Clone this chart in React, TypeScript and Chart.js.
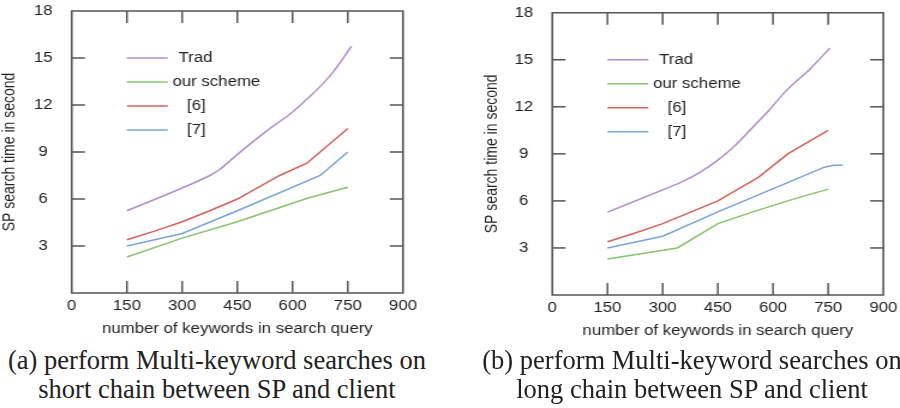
import React, { useEffect, useRef } from "react";
import { Chart, registerables } from "chart.js";

Chart.register(...registerables);

// ---------- data ----------
const xTickValues = [0, 150, 300, 450, 600, 750, 900];
const yTickValues = [0, 3, 6, 9, 12, 15, 18];
const seriesNames = ["Trad", "our scheme", "[6]", "[7]"];
const seriesColors = ["#b08fcf", "#86c46e", "#d3625a", "#7aa3de"];

const xAxisTitle = "number of keywords in search query";
const yAxisTitle = "SP search time in second";

// (a) short chain
const shortTrad: number[][] = [
  [150, 5.25], [300, 6.7], [375, 7.5], [400, 7.85], [450, 8.85], [530, 10.35],
  [600, 11.55], [640, 12.4], [680, 13.3], [710, 14.1], [760, 15.75],
];
const shortOurs: number[][] = [
  [150, 2.3], [300, 3.5], [450, 4.55], [640, 6.05], [750, 6.75],
];
const shortRef6: number[][] = [
  [150, 3.4], [225, 3.95], [300, 4.55], [375, 5.25], [450, 6.0], [565, 7.5], [640, 8.3], [750, 10.5],
];
const shortRef7: number[][] = [
  [150, 3.0], [300, 3.8], [450, 5.25], [675, 7.5], [750, 9.0],
];

// (b) long chain
const longTrad: number[][] = [
  [150, 5.28], [300, 6.7], [355, 7.24], [400, 7.8], [450, 8.6], [500, 9.6],
  [545, 10.7], [590, 11.8], [635, 13.0], [700, 14.4], [755, 15.75],
];
const longOurs: number[][] = [
  [150, 2.3], [340, 3.0], [450, 4.55], [545, 5.3], [640, 6.0], [750, 6.75],
];
const longRef6: number[][] = [
  [150, 3.4], [225, 3.95], [300, 4.55], [450, 6.0], [560, 7.5], [640, 9.0], [750, 10.5],
];
const longRef7: number[][] = [
  [150, 3.0], [300, 3.75], [450, 5.3], [740, 8.15], [765, 8.27], [790, 8.27],
];

const captionA = ["(a) perform Multi-keyword searches on", "short chain between SP and client"];
const captionB = ["(b) perform Multi-keyword searches on", "long chain between SP and client"];

// ---------- styling ----------
const FONT = "'Liberation Sans', Arial, Helvetica, sans-serif";
const SERIF = "'Liberation Serif', 'Times New Roman', serif";
const TEXT = "#222";
const FRAME_COLOR = "#555555";
const STRETCH = 1.2;
const CW = 375;
const CH = 340;
const smoothSeries = [true, false, false, false];

type Geo = {
  padLeft: number;
  padTop: number;
  padRight: number;
  yWidth: number;
  xHeight: number;
  xTitlePad: number;
};

const legendTextOffsets = [43, 38, 50, 50];
const legendRowOffsets = [47, 71, 95, 119];

function drawFrame(chart: any) {
  const ctx: CanvasRenderingContext2D = chart.ctx;
  const a = chart.chartArea;
  const xs = chart.scales.x;
  const ys = chart.scales.y;
  ctx.save();
  ctx.strokeStyle = FRAME_COLOR;
  ctx.lineWidth = 1.6;
  ctx.lineCap = "butt";
  ctx.beginPath();
  ctx.moveTo(a.left, a.top);
  ctx.lineTo(a.right, a.top);
  ctx.lineTo(a.right, a.bottom);
  ctx.lineTo(a.left, a.bottom);
  ctx.closePath();
  ctx.stroke();
  ctx.lineWidth = 1.5;
  for (const v of xTickValues) {
    if (v <= 0 || v >= 900) continue;
    const px = xs.getPixelForValue(v);
    ctx.beginPath();
    ctx.moveTo(px, a.bottom);
    ctx.lineTo(px, a.bottom - 12);
    ctx.stroke();
    ctx.beginPath();
    ctx.moveTo(px, a.top);
    ctx.lineTo(px, a.top + 12);
    ctx.stroke();
  }
  for (const v of yTickValues) {
    if (v <= 0 || v >= 18) continue;
    const py = ys.getPixelForValue(v);
    ctx.beginPath();
    ctx.moveTo(a.left, py);
    ctx.lineTo(a.left + 11, py);
    ctx.stroke();
    ctx.beginPath();
    ctx.moveTo(a.right, py);
    ctx.lineTo(a.right - 11, py);
    ctx.stroke();
  }
  ctx.restore();
}

function drawLegend(chart: any) {
  const ctx: CanvasRenderingContext2D = chart.ctx;
  const a = chart.chartArea;
  const lx = a.left + 46;
  ctx.save();
  ctx.font = `14px ${FONT}`;
  ctx.textBaseline = "middle";
  ctx.textAlign = "left";
  seriesNames.forEach((name, i) => {
    const ly = a.top + legendRowOffsets[i];
    ctx.strokeStyle = seriesColors[i];
    ctx.lineWidth = 1.5;
    ctx.beginPath();
    ctx.moveTo(lx, ly);
    ctx.lineTo(lx + 34, ly);
    ctx.stroke();
    ctx.fillStyle = TEXT;
    ctx.fillText(name, lx + legendTextOffsets[i], ly);
  });
  ctx.restore();
}

const framePlugin = {
  id: "frameAndLegend",
  afterDraw(chart: any) {
    drawLegend(chart);
    drawFrame(chart);
  },
};

function toPoints(arr: number[][]) {
  return arr.map(([x, y]) => ({ x, y }));
}

function makeConfig(series: number[][][], geo: Geo): any {
  return {
    type: "line",
    data: {
      datasets: series.map((s, i) => ({
        label: seriesNames[i],
        data: toPoints(s),
        borderColor: seriesColors[i],
        backgroundColor: seriesColors[i],
        borderWidth: 1.5,
        pointRadius: 0,
        fill: false,
        ...(smoothSeries[i] ? { cubicInterpolationMode: "monotone" } : { tension: 0 }),
      })),
    },
    options: {
      animation: false,
      responsive: false,
      devicePixelRatio: 1,
      events: [],
      layout: {
        padding: { left: geo.padLeft, top: geo.padTop, right: geo.padRight, bottom: 0 },
      },
      plugins: {
        legend: { display: false },
        tooltip: { enabled: false },
        title: { display: false },
      },
      scales: {
        x: {
          type: "linear",
          min: 0,
          max: 900,
          grid: { display: false, drawTicks: true, tickLength: 5 },
          border: { display: false },
          ticks: {
            stepSize: 150,
            autoSkip: false,
            maxRotation: 0,
            padding: 0,
            color: TEXT,
            font: { family: FONT, size: 14 },
          },
          title: {
            display: true,
            text: xAxisTitle,
            color: TEXT,
            font: { family: FONT, size: 14 },
            padding: { top: 0, bottom: geo.xTitlePad },
          },
          afterFit: (scale: any) => {
            scale.height = geo.xHeight;
          },
        },
        y: {
          type: "linear",
          min: 0,
          max: 18,
          grid: { display: false, drawTicks: true, tickLength: 16 },
          border: { display: false },
          ticks: {
            stepSize: 3,
            autoSkip: false,
            padding: 0,
            crossAlign: "center",
            color: TEXT,
            font: { family: FONT, size: 14 },
            callback: (v: any) => (v === 0 ? "" : String(v)),
          },
          title: {
            display: true,
            text: yAxisTitle,
            color: TEXT,
            font: { family: FONT, size: 14 },
            padding: { top: 0, bottom: 0 },
          },
          afterFit: (scale: any) => {
            scale.width = geo.yWidth;
          },
        },
      },
    },
    plugins: [framePlugin],
  };
}

function Panel({ series, geo, left }: { series: number[][][]; geo: Geo; left: number }) {
  const ref = useRef<HTMLCanvasElement | null>(null);
  useEffect(() => {
    if (!ref.current) return;
    const chart = new Chart(ref.current, makeConfig(series, geo));
    return () => chart.destroy();
  }, []);
  return (
    <canvas
      ref={ref}
      width={CW}
      height={CH}
      style={{
        position: "absolute",
        left,
        top: 0,
        width: CW,
        height: CH,
        transform: `scaleX(${STRETCH})`,
        transformOrigin: "0 0",
      }}
    />
  );
}

function Caption({ lines, center }: { lines: string[]; center: number }) {
  return (
    <div
      style={{
        position: "absolute",
        left: center - 260,
        width: 520,
        top: 346,
        textAlign: "center",
        fontFamily: SERIF,
        fontSize: 26.5,
        lineHeight: "29px",
        color: TEXT,
        whiteSpace: "nowrap",
      }}
    >
      {lines.map((l, i) => (
        <div key={i}>{l}</div>
      ))}
    </div>
  );
}

const geoA: Geo = { padLeft: 0, padTop: 11, padRight: 39.2, yWidth: 59.75, xHeight: 47, xTitlePad: 2.6 };
const geoB: Geo = { padLeft: 26.3, padTop: 12.7, padRight: 13.9, yWidth: 58.95, xHeight: 45, xTitlePad: 0 };

export default function App() {
  return (
    <div
      style={{
        position: "absolute",
        left: 0,
        top: 0,
        width: 900,
        height: 408,
        overflow: "hidden",
        background: "#fff",
      }}
    >
      <Panel series={[shortTrad, shortOurs, shortRef6, shortRef7]} geo={geoA} left={0} />
      <Panel series={[longTrad, longOurs, longRef6, longRef7]} geo={geoB} left={450} />
      <Caption lines={captionA} center={217} />
      <Caption lines={captionB} center={692} />
    </div>
  );
}
